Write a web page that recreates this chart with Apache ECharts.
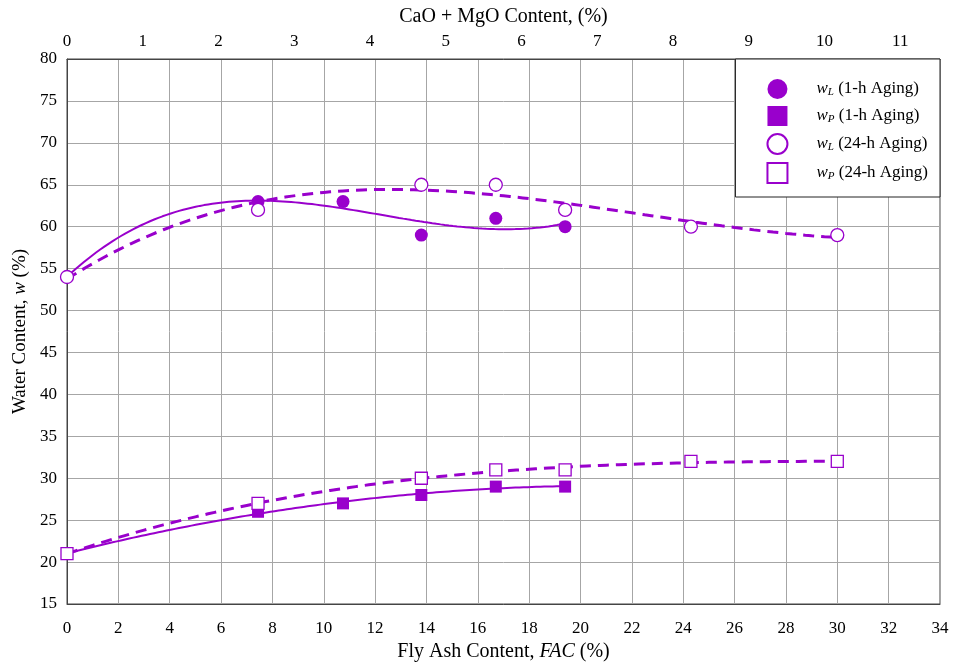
<!DOCTYPE html>
<html>
<head>
<meta charset="utf-8">
<script src="https://cdn.jsdelivr.net/npm/echarts@6/dist/echarts.min.js"></script>
<style>
  html, body { margin: 0; padding: 0; background: #fff; }
  #chart { width: 956px; height: 664px; }
</style>
</head>
<body>
<div id="chart"></div>
<script>
// Fly ash content (%) for each mix
const facOneHour = [0, 7.44, 10.75, 13.8, 16.7, 19.4];
const facDay = [0, 7.44, 13.8, 16.7, 19.4, 24.3, 30.0];

// Liquid limit / plastic limit (%)
const wL1h = [54, 63, 63, 59, 61, 60];
const wP1h = [21, 26, 27, 28, 29, 29];
const wL24h = [54, 62, 65, 65, 62, 60, 59];
const wP24h = [21, 27, 30, 31, 31, 32, 32];

// Axis tick settings
const facTicks = { min: 0, max: 34, interval: 2 };
const wTicks = { min: 15, max: 80, interval: 5 };
// One percent CaO + MgO corresponds to this much fly ash content
const facPerOxide = 2.95;

const purple = '#9900cc';
const serif = '"Liberation Serif", "Times New Roman", serif';

// Least-squares polynomial trend line through the measured points
function polyFit(xs, ys, deg) {
  const n = deg + 1;
  const A = Array.from({ length: n }, () => new Array(n + 1).fill(0));
  for (let r = 0; r < n; r++) {
    for (let c = 0; c < n; c++) {
      A[r][c] = xs.reduce((s, x) => s + Math.pow(x, r + c), 0);
    }
    A[r][n] = xs.reduce((s, x, i) => s + ys[i] * Math.pow(x, r), 0);
  }
  for (let i = 0; i < n; i++) {
    let p = i;
    for (let k = i + 1; k < n; k++) if (Math.abs(A[k][i]) > Math.abs(A[p][i])) p = k;
    [A[i], A[p]] = [A[p], A[i]];
    for (let k = i + 1; k < n; k++) {
      const f = A[k][i] / A[i][i];
      for (let c = i; c <= n; c++) A[k][c] -= f * A[i][c];
    }
  }
  const coef = new Array(n).fill(0);
  for (let i = n - 1; i >= 0; i--) {
    let s = A[i][n];
    for (let c = i + 1; c < n; c++) s -= A[i][c] * coef[c];
    coef[i] = s / A[i][i];
  }
  return coef;
}
function trend(xs, ys, deg) {
  const coef = polyFit(xs, ys, deg);
  const x0 = Math.min(...xs), x1 = Math.max(...xs);
  const pts = [];
  const steps = 120;
  for (let i = 0; i <= steps; i++) {
    const x = x0 + (x1 - x0) * i / steps;
    pts.push([x, coef.reduce((s, c, k) => s + c * Math.pow(x, k), 0)]);
  }
  return pts;
}
const pairs = (xs, ys) => xs.map((x, i) => [x, ys[i]]);

const chart = echarts.init(document.getElementById('chart'), null, { renderer: 'canvas' });

const labelStyle = { fontFamily: serif, fontSize: 17, color: '#000' };
const nameRich = {
  i: { fontFamily: serif, fontSize: 20, fontStyle: 'italic', color: '#000' },
  n: { fontFamily: serif, fontSize: 20, color: '#000' }
};
const yNameRich = {
  i: { fontFamily: serif, fontSize: 19, fontStyle: 'italic', color: '#000' },
  n: { fontFamily: serif, fontSize: 19, color: '#000' }
};

function lineSeries(data, dashed) {
  return {
    type: 'line', data, xAxisIndex: 0, yAxisIndex: 0,
    showSymbol: false, symbol: 'none', silent: true, z: 2,
    lineStyle: dashed
      ? { color: purple, width: 3, type: [11, 7], opacity: 1 }
      : { color: purple, width: 2, opacity: 1 }
  };
}
function pointSeries(name, data, symbol, filled, size) {
  return {
    name, type: 'scatter', data, xAxisIndex: 0, yAxisIndex: 0,
    symbol, symbolSize: size, z: filled ? 3 : 4,
    itemStyle: filled
      ? { color: purple, borderColor: purple, borderWidth: 0, opacity: 1 }
      : { color: '#fff', borderColor: purple, borderWidth: 1.3, opacity: 1 }
  };
}

const legendNames = ['wL1', 'wP1', 'wL24', 'wP24'];
const legendText = {
  wL1: '{i|w}{s|L} (1-h Aging)',
  wP1: '{i|w}{s|P} (1-h Aging)',
  wL24: '{i|w}{s|L} (24-h Aging)',
  wP24: '{i|w}{s|P} (24-h Aging)'
};

chart.setOption({
  animation: false,
  backgroundColor: '#fff',
  grid: {
    left: 67, right: 16, top: 59, bottom: 60,
    outerBoundsMode: 'none',
    show: true, borderColor: '#444', borderWidth: 1
  },
  legend: {
    data: legendNames.map(n => ({ name: n })),
    orient: 'vertical',
    right: 16, top: 59,
    padding: [20, 12, 13, 31],
    itemGap: 7,
    itemWidth: 20, itemHeight: 20,
    backgroundColor: '#fff',
    borderColor: '#222', borderWidth: 1,
    formatter: n => legendText[n],
    textStyle: {
      fontFamily: serif, fontSize: 17, color: '#000', padding: [0, 0, 0, 24],
      rich: {
        i: { fontFamily: serif, fontSize: 17, fontStyle: 'italic', color: '#000' },
        s: { fontFamily: serif, fontSize: 11, fontStyle: 'italic', color: '#000', verticalAlign: 'bottom', padding: [6, 0, 0, 0] }
      }
    }
  },
  xAxis: [
    {
      type: 'value', position: 'bottom',
      min: facTicks.min, max: facTicks.max, interval: facTicks.interval,
      axisLine: { show: true, lineStyle: { color: '#444', width: 1 } },
      axisTick: { show: false },
      axisLabel: { ...labelStyle, margin: 16 },
      splitLine: { show: true, lineStyle: { color: '#a6a6a6', width: 1 } },
      name: '{n|Fly Ash Content, }{i|FAC}{n| (%)}',
      nameLocation: 'middle', nameGap: 34,
      nameTextStyle: { rich: nameRich }
    },
    {
      type: 'value', position: 'top',
      min: 0, max: facTicks.max / facPerOxide, interval: 1,
      axisLine: { show: true, lineStyle: { color: '#444', width: 1 } },
      axisTick: { show: false },
      axisLabel: { ...labelStyle, margin: 9, formatter: v => Number.isInteger(v) ? String(v) : '' },
      splitLine: { show: false },
      name: 'CaO + MgO Content, (%)',
      nameLocation: 'middle', nameGap: 32,
      nameTextStyle: { fontFamily: serif, fontSize: 20, color: '#000' }
    }
  ],
  yAxis: {
    type: 'value',
    min: wTicks.min, max: wTicks.max, interval: wTicks.interval,
    axisLine: { show: true, lineStyle: { color: '#444', width: 1 } },
    axisTick: { show: false },
    axisLabel: { ...labelStyle, margin: 10 },
    splitLine: { show: true, lineStyle: { color: '#a6a6a6', width: 1 } },
    name: '{n|Water Content, }{i|w}{n| (%)}',
    nameLocation: 'middle', nameGap: 33, nameRotate: 90,
    nameTextStyle: { rich: yNameRich }
  },
  series: [
    lineSeries(trend(facOneHour, wL1h, 3), false),
    lineSeries(trend(facOneHour, wP1h, 2), false),
    lineSeries(trend(facDay, wL24h, 3), true),
    lineSeries(trend(facDay, wP24h, 3), true),
    pointSeries('wL1', pairs(facOneHour, wL1h), 'circle', true, 13),
    pointSeries('wP1', pairs(facOneHour, wP1h), 'rect', true, 12),
    pointSeries('wL24', pairs(facDay, wL24h), 'circle', false, 13),
    pointSeries('wP24', pairs(facDay, wP24h), 'rect', false, 12)
  ]
});
</script>
</body>
</html>
